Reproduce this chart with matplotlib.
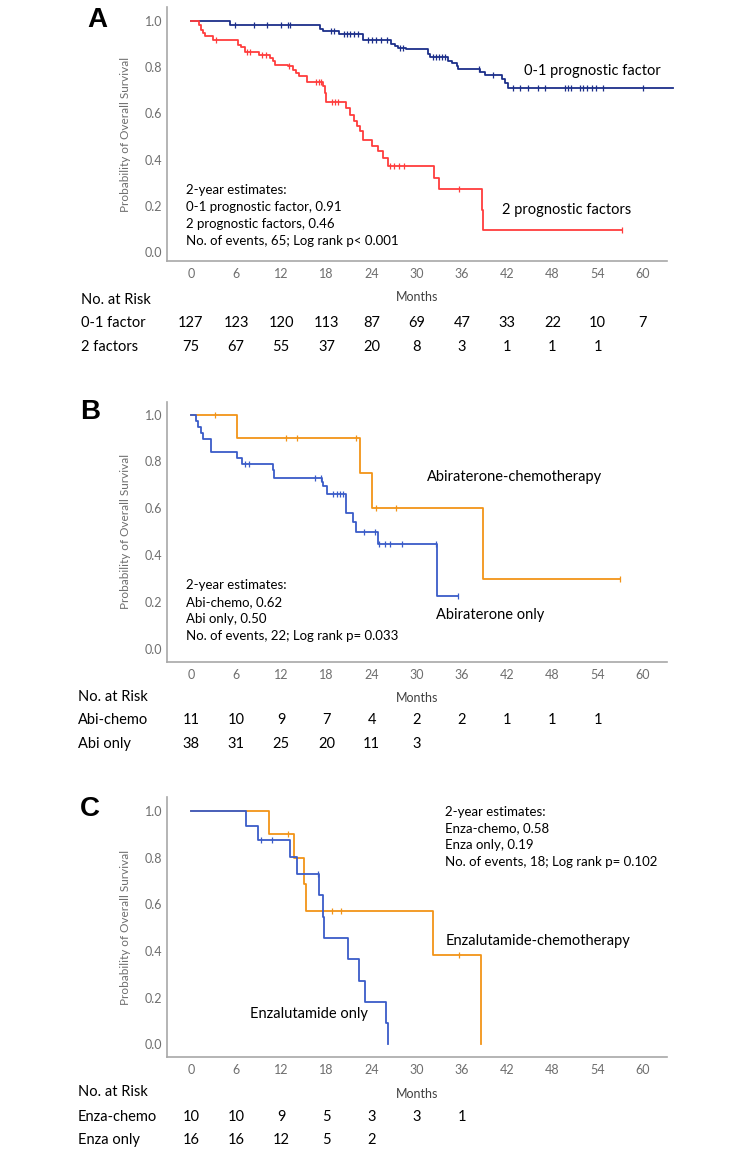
import numpy as np
import matplotlib
matplotlib.use('Agg')
import matplotlib.pyplot as plt
from matplotlib.transforms import blended_transform_factory

plt.rcParams['font.family'] = ['Lato', 'DejaVu Sans']

W, H = 744, 1153
DPI = 100

# ==========================================
# Datos (meses, supervivencia)
# ==========================================
# Panel A: 0-1 factor pronóstico
a_low_t = [0, 5.2, 17.1, 17.5, 19.7, 22.9, 26.6, 27.1, 27.5, 28.6, 31.5, 31.7,
           34.2, 34.6, 35.3, 35.5, 38.4, 39.0, 41.3, 41.7, 42.1]
a_low_s = [1.0, 0.984, 0.968, 0.957, 0.943, 0.920, 0.903, 0.892, 0.885, 0.878,
           0.859, 0.845, 0.830, 0.819, 0.806, 0.794, 0.780, 0.766, 0.751, 0.734, 0.711]
a_low_end = 64.0
a_low_cens = [5.8, 8.4, 10.1, 12.0, 12.9, 13.1, 18.6, 19.0, 20.3, 20.7, 21.1, 21.6,
              22.2, 23.5, 24.0, 24.6, 25.2, 26.0, 27.7, 28.2, 32.2, 32.6, 33.0, 33.4,
              33.8, 38.2, 40.1, 42.8, 43.7, 44.8, 46.1, 47.0, 49.7, 50.0, 50.4, 51.6,
              52.1, 52.6, 53.2, 53.8, 54.7, 60.0]

# Panel A: 2 factores pronósticos
a_high_t = [0, 1.1, 1.4, 1.6, 1.9, 2.9, 6.3, 6.7, 7.2, 9.1, 10.5, 10.9, 11.2, 12.9,
            13.6, 14.0, 14.3, 15.4, 17.6, 17.8, 18.0, 20.6, 21.1, 21.6, 22.0, 22.4,
            22.8, 24.0, 24.9, 25.5, 26.2, 32.3, 32.9, 38.6, 38.8]
a_high_s = [1.0, 0.986, 0.964, 0.949, 0.935, 0.921, 0.899, 0.887, 0.867, 0.855,
            0.841, 0.827, 0.812, 0.805, 0.790, 0.776, 0.762, 0.737, 0.718, 0.689,
            0.650, 0.624, 0.595, 0.566, 0.545, 0.523, 0.487, 0.458, 0.436, 0.408,
            0.371, 0.320, 0.272, 0.182, 0.095]
a_high_end = 57.2
a_high_cens = [3.4, 7.5, 7.9, 9.4, 10.0, 13.0, 16.6, 17.0, 17.3, 18.7, 19.2, 19.6,
               26.5, 27.0, 27.6, 28.3, 35.6, 57.2]

# Panel B: abiraterona-quimioterapia
b_chemo_t = [0, 6.1, 22.5, 24.0, 38.8]
b_chemo_s = [1.0, 0.90, 0.75, 0.60, 0.30]
b_chemo_end = 57.0
b_chemo_cens = [3.2, 12.6, 14.1, 21.9, 24.6, 27.2, 57.0]

# Panel B: solo abiraterona
b_only_t = [0, 0.7, 1.0, 1.3, 1.6, 2.7, 6.1, 6.8, 10.9, 11.05, 17.4, 17.6, 18.1,
            20.6, 21.5, 21.9, 24.8, 32.7]
b_only_s = [1.0, 0.974, 0.947, 0.921, 0.895, 0.842, 0.816, 0.789, 0.762, 0.730,
            0.712, 0.694, 0.662, 0.580, 0.540, 0.500, 0.450, 0.225]
b_only_end = 35.5
b_only_cens = [7.25, 7.66, 16.5, 17.3, 18.9, 19.4, 19.8, 20.2, 23.0, 24.5, 25.0,
               25.8, 26.5, 28.0, 32.6, 35.5]

# Panel C: enzalutamida-quimioterapia
c_chemo_t = [0, 10.4, 13.7, 15.0, 15.3, 32.1, 38.5]
c_chemo_s = [1.0, 0.90, 0.80, 0.686, 0.571, 0.381, 0.0]
c_chemo_end = 38.5
c_chemo_cens = [12.9, 18.8, 19.9, 35.6]

# Panel C: solo enzalutamida
c_only_t = [0, 7.3, 8.9, 13.1, 14.1, 17.0, 17.6, 17.7, 20.9, 22.3, 23.1, 25.9, 26.2]
c_only_s = [1.0, 0.9375, 0.875, 0.802, 0.729, 0.638, 0.547, 0.456, 0.364, 0.273,
            0.182, 0.091, 0.0]
c_only_end = 26.2
c_only_cens = [9.3, 10.8, 16.9]

# Tablas de pacientes en riesgo
risk_months = [0, 6, 12, 18, 24, 30, 36, 42, 48, 54, 60]
a_risk_low = [127, 123, 120, 113, 87, 69, 47, 33, 22, 10, 7]
a_risk_high = [75, 67, 55, 37, 20, 8, 3, 1, 1, 1]
b_risk_chemo = [11, 10, 9, 7, 4, 2, 2, 1, 1, 1]
b_risk_only = [38, 31, 25, 20, 11, 3]
c_risk_chemo = [10, 10, 9, 5, 3, 3, 1]
c_risk_only = [16, 16, 12, 5, 2]

a_notes = ['2-year estimates:', '0-1 prognostic factor, 0.91',
           '2 prognostic factors, 0.46', 'No. of events, 65; Log rank p< 0.001']
b_notes = ['2-year estimates:', 'Abi-chemo, 0.62', 'Abi only, 0.50',
           'No. of events, 22; Log rank p= 0.033']
c_notes = ['2-year estimates:', 'Enza-chemo, 0.58', 'Enza only, 0.19',
           'No. of events, 18; Log rank p= 0.102']

NAVY = '#1c2f8a'
RED = '#ff3d3d'
BLUE = '#3a5cc8'
ORANGE = '#f29418'
GRAY = '#6e6e6e'

fig = plt.figure(figsize=(W / DPI, H / DPI), dpi=DPI)


def px_axes(left, top, right, bottom):
    return fig.add_axes([left / W, 1 - bottom / H, (right - left) / W, (bottom - top) / H])


def draw_km(ax, t, s, t_end, cens, color):
    ts = list(t) + [t_end]
    ss = list(s) + [s[-1]]
    ax.step(ts, ss, where='post', color=color, lw=1.3, clip_on=False, zorder=3)
    idx = np.searchsorted(np.array(t), np.array(cens), side='right') - 1
    cy = np.array(s)[idx]
    ax.plot(cens, cy, ls='none', marker='|', ms=5, mew=0.9, color=color, zorder=4)


def style_axes(ax, ylim):
    ax.set_xlim(-3.2, 63.2)
    ax.set_ylim(*ylim)
    ax.set_xticks(risk_months)
    ax.set_yticks([0, 0.2, 0.4, 0.6, 0.8, 1.0])
    ax.set_yticklabels(['0.0', '0.2', '0.4', '0.6', '0.8', '1.0'])
    for sp in ['top', 'right']:
        ax.spines[sp].set_visible(False)
    for sp in ['left', 'bottom']:
        ax.spines[sp].set_color('#a8a8a8')
        ax.spines[sp].set_linewidth(1.2)
    ax.tick_params(axis='both', length=0, labelsize=9, labelcolor=GRAY)
    ax.tick_params(axis='x', pad=5)
    ax.tick_params(axis='y', pad=3)
    ax.set_ylabel('Probability of Overall Survival', fontsize=8.5, color=GRAY, labelpad=10)


def notes(ax, x, y0, lines, dy):
    for i, line in enumerate(lines):
        ax.text(x, y0 - i * dy, line, fontsize=9.5, va='center', ha='left')


def risk_table(ax, y_head, y_rows, x_lab, labels, rows, y_months):
    tr = blended_transform_factory(ax.transData, fig.transFigure)
    fig.text(x_lab / W, 1 - y_head / H, 'No. at Risk', fontsize=10.5, va='center', ha='left')
    ax.text(30, 1 - y_months / H, 'Months', transform=tr, fontsize=9, color='#404040',
            ha='center', va='center')
    for yr, lab, vals in zip(y_rows, labels, rows):
        fig.text(x_lab / W, 1 - yr / H, lab, fontsize=10.5, va='center', ha='left')
        for m, v in zip(risk_months, vals):
            ax.text(m, 1 - yr / H, str(v), transform=tr, fontsize=10.5, ha='center', va='center')


# ==========================================
# Panel A
# ==========================================
axA = px_axes(166.7, 7.3, 667, 260.7)
draw_km(axA, a_low_t, a_low_s, a_low_end, a_low_cens, NAVY)
draw_km(axA, a_high_t, a_high_s, a_high_end, a_high_cens, RED)
style_axes(axA, (-0.039, 1.061))
axA.text(44.2, 0.786, '0-1 prognostic factor', fontsize=10.5, va='center')
axA.text(41.3, 0.182, '2 prognostic factors', fontsize=10.5, va='center')
notes(axA, -0.6, 0.266, a_notes, 0.0725)
risk_table(axA, 300, [322.7, 346.7], 81, ['0-1 factor', '2 factors'],
           [a_risk_low, a_risk_high], 296.7)
fig.text(87 / W, 1 - 20 / H, 'A', fontsize=20, fontweight='bold',
         family='Liberation Sans', va='center', ha='left')

# ==========================================
# Panel B
# ==========================================
axB = px_axes(166.7, 401.7, 667, 661.7)
draw_km(axB, b_chemo_t, b_chemo_s, b_chemo_end, b_chemo_cens, ORANGE)
draw_km(axB, b_only_t, b_only_s, b_only_end, b_only_cens, BLUE)
style_axes(axB, (-0.054, 1.055))
axB.text(31.4, 0.734, 'Abiraterone-chemotherapy', fontsize=10.5, va='center')
axB.text(32.6, 0.147, 'Abiraterone only', fontsize=10.5, va='center')
notes(axB, -0.6, 0.272, b_notes, 0.0725)
risk_table(axB, 696.7, [720, 744], 78, ['Abi-chemo', 'Abi only'],
           [b_risk_chemo, b_risk_only], 698.3)
fig.text(80 / W, 1 - 412 / H, 'B', fontsize=20, fontweight='bold',
         family='Liberation Sans', va='center', ha='left')

# ==========================================
# Panel C
# ==========================================
axC = px_axes(166.7, 797.5, 667, 1056.7)
draw_km(axC, c_chemo_t, c_chemo_s, c_chemo_end, c_chemo_cens, ORANGE)
draw_km(axC, c_only_t, c_only_s, c_only_end, c_only_cens, BLUE)
style_axes(axC, (-0.053, 1.058))
axC.text(33.8, 0.443, 'Enzalutamide-chemotherapy', fontsize=10.5, va='center')
axC.text(7.8, 0.129, 'Enzalutamide only', fontsize=10.5, va='center')
notes(axC, 33.8, 0.997, c_notes, 0.0715)
risk_table(axC, 1091.7, [1116.7, 1140], 78, ['Enza-chemo', 'Enza only'],
           [c_risk_chemo, c_risk_only], 1094)
fig.text(80 / W, 1 - 809 / H, 'C', fontsize=20, fontweight='bold',
         family='Liberation Sans', va='center', ha='left')

fig.savefig('out.png', dpi=DPI)
